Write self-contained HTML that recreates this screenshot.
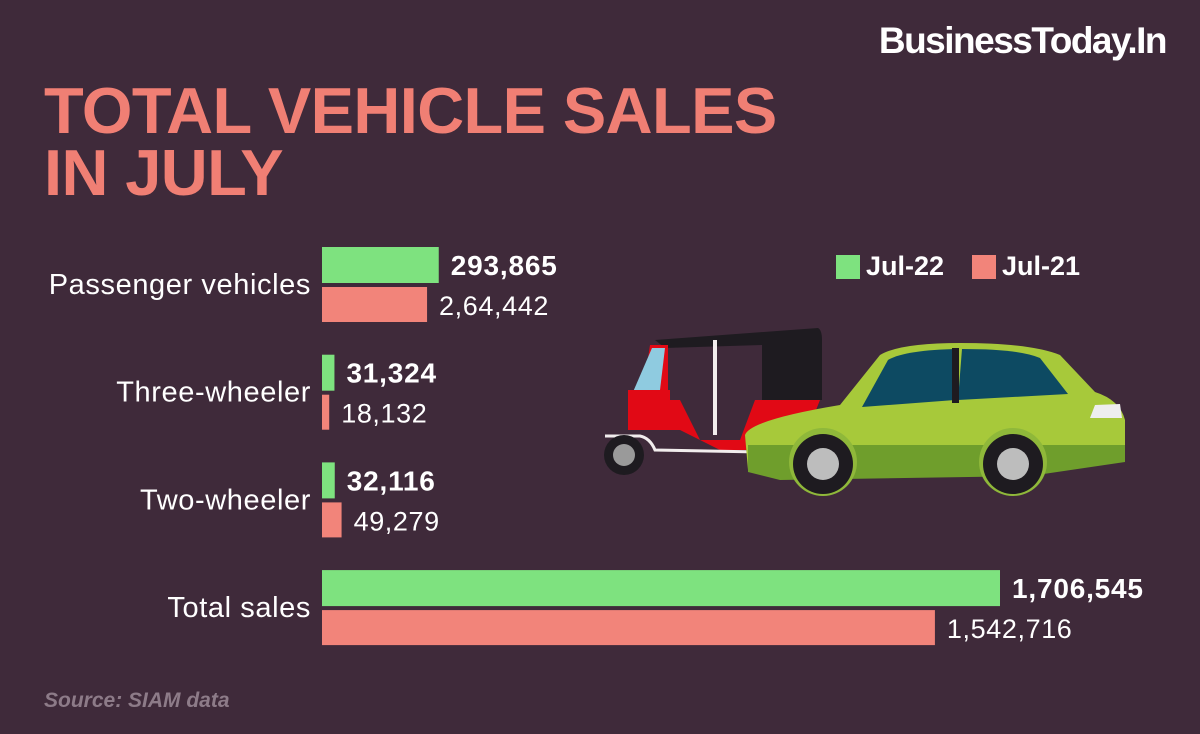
<!DOCTYPE html>
<html><head><meta charset="utf-8"><style>
body{margin:0;width:1200px;height:734px;background:#3f2a3a;font-family:"Liberation Sans",sans-serif;overflow:hidden;position:relative}
.t{position:absolute;white-space:nowrap}
</style></head><body>
<div class="t" style="right:34px;top:20px;font-size:37px;font-weight:bold;color:#fff;letter-spacing:-1.5px">BusinessToday.In</div>
<div class="t" style="left:44px;top:80px;font-size:65px;font-weight:900;color:#f07f74;line-height:62px;letter-spacing:-0.6px">TOTAL VEHICLE SALES<br>IN JULY</div>
<div class="t" style="left:44px;top:689px;font-size:21px;font-weight:bold;font-style:italic;color:#8d7b88">Source: SIAM data</div>
<div>
<div class="t" style="left:836px;top:255px;width:24px;height:24px;background:#7ee27f"></div>
<div class="t" style="left:866px;top:251px;font-size:27px;font-weight:bold;color:#fff">Jul-22</div>
<div class="t" style="left:972px;top:255px;width:24px;height:24px;background:#f2847a"></div>
<div class="t" style="left:1002px;top:251px;font-size:27px;font-weight:bold;color:#fff">Jul-21</div>
</div>
<svg width="1200" height="734" style="position:absolute;left:0;top:0">
<g>
<path d="M655,340 L818,328 Q822,330 822,340 L822,400 L762,400 L762,345 L665,348 Z" fill="#1e1b20"/>
<path d="M650,345 L668,345 L668,410 L640,410 Z" fill="#e10915"/>
<path d="M652,348 L665,348 L660,390 L633,392 Z" fill="#8fcbe0"/>
<rect x="628" y="390" width="42" height="40" fill="#e10915"/>
<path d="M605,430 L680,430 L720,450 L800,450 L820,400 L755,400 L740,440 L700,440 L680,400 L670,400 L670,430 Z" fill="#e10915"/>
<rect x="713" y="340" width="4" height="95" fill="#f2eded"/>
<path d="M605,436 L640,436 Q650,438 655,450 L760,452" stroke="#f2eded" stroke-width="3" fill="none"/>
<circle cx="624" cy="455" r="20" fill="#1e1b20"/><circle cx="624" cy="455" r="11" fill="#9a9a9a"/>
</g>
<g>
<path d="M745,435 Q750,420 840,405 L880,355 Q900,343 960,343 Q1030,343 1060,355 L1095,392 Q1120,400 1125,420 L1125,460 L1030,475 L780,478 L748,470 Z" fill="#a7c93a"/>
<path d="M748,445 L1125,445 L1125,462 L1030,476 L780,480 L748,472 Z" fill="#6f9e2c"/>
<path d="M862,407 L888,360 Q905,350 958,349 L955,400 Z" fill="#0d4a62"/>
<path d="M962,349 Q1020,349 1040,358 L1068,394 L958,400 Z" fill="#0d4a62"/>
<rect x="952" y="348" width="7" height="55" fill="#1e1b20"/>
<path d="M1095,405 L1120,404 L1122,418 L1090,418 Z" fill="#eee"/>
<circle cx="823" cy="462" r="34" fill="#8fb83a"/><circle cx="823" cy="464" r="30" fill="#1e1b20"/><circle cx="823" cy="464" r="16" fill="#bdbdbd"/>
<circle cx="1013" cy="462" r="34" fill="#8fb83a"/><circle cx="1013" cy="464" r="30" fill="#1e1b20"/><circle cx="1013" cy="464" r="16" fill="#bdbdbd"/>
</g>
</svg>
<svg id="chart" width="1200" height="734" style="position:absolute;left:0;top:0"></svg>
<script>
const categories=["Passenger vehicles","Three-wheeler","Two-wheeler","Total sales"];
const jul22=[293865,31324,32116,1706545];
const jul21=[264442,18132,49279,1542716];
const jul22Labels=["293,865","31,324","32,116","1,706,545"];
const jul21Labels=["2,64,442","18,132","49,279","1,542,716"];
const NS="http://www.w3.org/2000/svg";
const svg=document.getElementById('chart');
const x0=322, scale=678/1706545;
const xs=v=>x0+v*scale;
const rowY=i=>247+i*107.7;
function mk(tag,attrs,text){const e=document.createElementNS(NS,tag);for(const k in attrs)e.setAttribute(k,attrs[k]);if(text!=null)e.textContent=text;svg.appendChild(e);return e;}
categories.forEach((c,i)=>{
 const y=rowY(i);
 const cl=mk('text',{x:311,y:y+47,'text-anchor':'end','font-size':29,'letter-spacing':0.6,fill:'#fff','font-family':'Liberation Sans, sans-serif'},c);
 
 
 const g=mk('rect',{x:x0,y:y,width:xs(jul22[i])-x0,height:36,fill:'#7ee27f'});
 
 
 const r=mk('rect',{x:x0,y:y+40,width:xs(jul21[i])-x0,height:35,fill:'#f2847a'});
 
 
 const gl=mk('text',{x:xs(jul22[i])+12,y:y+28,'font-size':28,'letter-spacing':0.8,'font-weight':'bold',fill:'#fff','font-family':'Liberation Sans, sans-serif'},jul22Labels[i]);
 
 
 const rl=mk('text',{x:xs(jul21[i])+12,y:y+68,'font-size':27,'letter-spacing':0.6,fill:'#fff','font-family':'Liberation Sans, sans-serif'},jul21Labels[i]);
 
 
});
</script>
</body></html>
